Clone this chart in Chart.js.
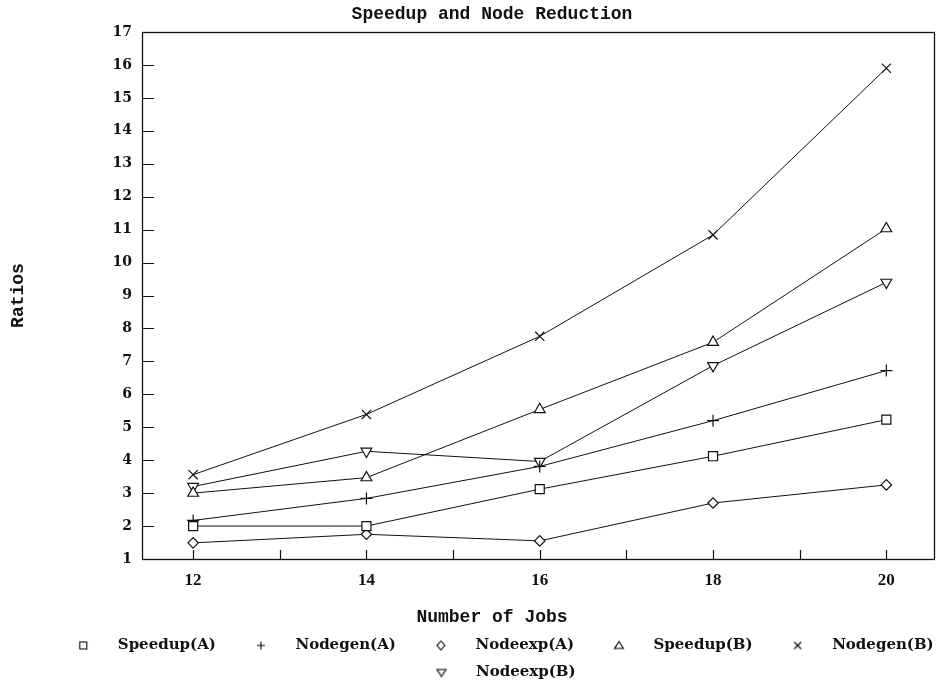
<!DOCTYPE html>
<html>
<head>
<meta charset="utf-8">
<script src="https://cdn.jsdelivr.net/npm/chart.js"></script>
<style>
html,body{margin:0;padding:0;background:#fff;overflow:hidden;width:937px;height:684px}
#wrap{position:absolute;left:0;top:0;width:984px;height:690px}
canvas{display:block}
</style>
</head>
<body>
<div id="wrap"><canvas id="c" width="984" height="690"></canvas></div>
<script>
// ---- data ----
const jobs = [12, 14, 16, 18, 20];
const speedupA = [2.0, 2.0, 3.12, 4.12, 5.23];
const nodegenA = [2.17, 2.84, 3.81, 5.2, 6.72];
const nodeexpA = [1.49, 1.75, 1.55, 2.7, 3.25];
const speedupB = [3.0, 3.47, 5.54, 7.58, 11.03];
const nodegenB = [3.56, 5.39, 7.76, 10.84, 15.9];
const nodeexpB = [3.2, 4.27, 3.96, 6.87, 9.4];
const seriesNames = ['Speedup(A)', 'Nodegen(A)', 'Nodeexp(A)', 'Speedup(B)', 'Nodegen(B)', 'Nodeexp(B)'];
const xTickLabels = [12, 14, 16, 18, 20];
const yTickLabels = [1,2,3,4,5,6,7,8,9,10,11,12,13,14,15,16,17];

const seriesValues = [speedupA, nodegenA, nodeexpA, speedupB, nodegenB, nodeexpB];
const markerStyles = ['rect', 'cross', 'rectRot', 'triangle', 'crossRot', 'triangle'];
const markerRot = [0, 0, 0, 0, 0, 180];
const markerRadius = [6.4, 6, 5.2, 6.2, 6.5, 6.2];

// legend icons: marker drawn inside a wider transparent canvas
function makeIcon(kind) {
  const c = document.createElement('canvas');
  c.width = 60; c.height = 16;
  const g = c.getContext('2d');
  g.strokeStyle = '#000'; g.fillStyle = '#fff'; g.lineWidth = 1.1;
  const cx = 33, cy = 8, s = 4;
  g.beginPath();
  if (kind === 0) { g.rect(cx - s + 0.5, cy - s + 0.5, 2 * s - 1, 2 * s - 1); }
  else if (kind === 1) { g.moveTo(cx - s, cy); g.lineTo(cx + s, cy); g.moveTo(cx, cy - s); g.lineTo(cx, cy + s); }
  else if (kind === 2) { g.moveTo(cx, cy - s - 0.5); g.lineTo(cx + s, cy); g.lineTo(cx, cy + s + 0.5); g.lineTo(cx - s, cy); g.closePath(); }
  else if (kind === 3) { g.moveTo(cx, cy - s); g.lineTo(cx + s + 0.5, cy + s - 1); g.lineTo(cx - s - 0.5, cy + s - 1); g.closePath(); }
  else if (kind === 4) { g.moveTo(cx - s + 0.5, cy - s + 0.5); g.lineTo(cx + s - 0.5, cy + s - 0.5); g.moveTo(cx + s - 0.5, cy - s + 0.5); g.lineTo(cx - s + 0.5, cy + s - 0.5); }
  else { g.moveTo(cx, cy + s); g.lineTo(cx + s + 0.5, cy - s + 1); g.lineTo(cx - s - 0.5, cy - s + 1); g.closePath(); }
  g.stroke();
  return c;
}
const legendIcons = seriesNames.map((_, i) => makeIcon(i));

const datasets = seriesNames.map((name, i) => ({
  label: name,
  data: jobs.map((j, k) => ({ x: j, y: seriesValues[i][k] })),
  borderColor: '#111',
  borderWidth: 1,
  tension: 0,
  fill: false,
  pointStyle: markerStyles[i],
  pointRotation: markerRot[i],
  pointRadius: markerRadius[i],
  pointHoverRadius: markerRadius[i],
  pointBackgroundColor: '#fff',
  pointBorderColor: '#111',
  pointBorderWidth: 1.2
}));

const framePlugin = {
  id: 'frame',
  beforeDatasetsDraw(chart) {
    const { ctx, chartArea: a, scales } = chart;
    const x = scales.x, y = scales.y;
    ctx.save();
    ctx.strokeStyle = '#111';
    ctx.lineWidth = 1.3;
    ctx.strokeRect(a.left + 0.5, a.top + 0.5, a.width, a.height);
    ctx.lineWidth = 1.2;
    ctx.beginPath();
    y.ticks.forEach(t => {
      const py = Math.round(y.getPixelForValue(t.value)) + 0.5;
      ctx.moveTo(a.left, py); ctx.lineTo(a.left + 12, py);
    });
    x.ticks.forEach(t => {
      const px = Math.round(x.getPixelForValue(t.value)) + 0.5;
      ctx.moveTo(px, a.bottom); ctx.lineTo(px, a.bottom - 9);
    });
    ctx.stroke();
    ctx.restore();
  }
};

new Chart(document.getElementById('c'), {
  type: 'line',
  data: { datasets },
  plugins: [framePlugin],
  options: {
    responsive: false,
    animation: false,
    devicePixelRatio: 1,
    layout: { padding: 0 },
    scales: {
      x: {
        type: 'linear',
        min: 11.41,
        max: 20.55,
        grid: { display: false, drawTicks: false },
        border: { display: false },
        ticks: {
          stepSize: 1,
          includeBounds: false,
          autoSkip: false,
          maxRotation: 0,
          padding: 11,
          color: '#111',
          font: { family: 'Liberation Serif', size: 17, weight: 'bold', lineHeight: 1.2 },
          callback: v => xTickLabels.includes(v) ? String(v) : ''
        },
        afterFit(s) { s.height = 30; }
      },
      y: {
        type: 'linear',
        min: 1,
        max: 17,
        grid: { display: false, drawTicks: false },
        border: { display: false },
        ticks: {
          stepSize: 1,
          autoSkip: false,
          padding: 10,
          color: '#111',
          font: { family: 'DejaVu Serif', size: 14, weight: 'bold' },
          callback: v => yTickLabels.includes(v) ? String(v) : ''
        },
        title: {
          display: true,
          text: 'Ratios',
          color: '#111',
          font: { family: 'Liberation Mono', size: 18, weight: 'bold', lineHeight: 1.2 },
          padding: { top: 8, bottom: 0 }
        },
        afterFit(s) { s.width = 142; }
      },
      y2: {
        type: 'linear',
        position: 'right',
        display: true,
        grid: { display: false, drawTicks: false },
        border: { display: false },
        ticks: { display: false },
        afterFit(s) { s.width = 50; }
      }
    },
    plugins: {
      tooltip: { enabled: false },
      title: {
        display: true,
        text: 'Speedup and Node Reduction',
        color: '#111',
        font: { family: 'Liberation Mono', size: 18, weight: 'bold', lineHeight: 1.2 },
        padding: { top: 3.5, bottom: 6.9 }
      },
      subtitle: {
        display: true,
        position: 'bottom',
        weight: 500,
        text: 'Number of Jobs',
        color: '#111',
        font: { family: 'Liberation Mono', size: 18, weight: 'bold', lineHeight: 1 },
        padding: { top: 19, bottom: 0 }
      },
      legend: {
        display: true,
        position: 'bottom',
        labels: {
          usePointStyle: true,
          pointStyleWidth: 60,
          boxHeight: 15,
          padding: 12,
          color: '#111',
          font: { family: 'DejaVu Serif', size: 15, weight: 'bold' },
          generateLabels(chart) {
            const items = Chart.defaults.plugins.legend.labels.generateLabels(chart);
            items.forEach((it, i) => { it.pointStyle = legendIcons[i]; it.rotation = 0; });
            return items;
          }
        }
      }
    }
  }
});
</script>
</body>
</html>
